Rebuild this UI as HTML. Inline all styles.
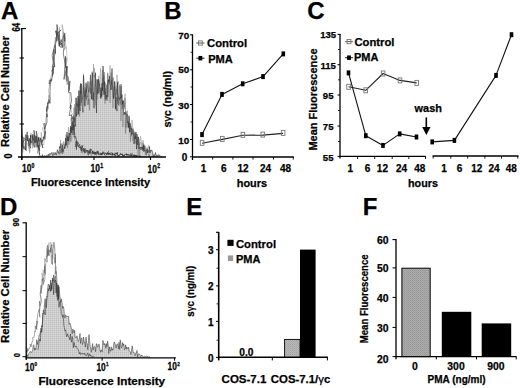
<!DOCTYPE html>
<html><head><meta charset="utf-8"><style>
html,body{margin:0;padding:0;background:#fff;width:520px;height:388px;overflow:hidden}
svg{display:block}
text{font-family:"Liberation Sans", sans-serif;stroke:#000;stroke-width:0.25px;paint-order:stroke}
</style></head><body>
<svg width="520" height="388" viewBox="0 0 520 388" xmlns="http://www.w3.org/2000/svg">
<defs><pattern id="stip" width="2" height="2" patternUnits="userSpaceOnUse"><rect width="2" height="2" fill="#dadada"/><rect width="1" height="2" fill="#cacaca"/><rect width="2" height="1" fill="#cdcdcd"/><rect width="1" height="1" fill="#c0c0c0"/></pattern><pattern id="stip2" width="2" height="2" patternUnits="userSpaceOnUse"><rect width="2" height="2" fill="#acacac"/><rect width="1" height="1" fill="#969696"/><rect x="1" y="1" width="1" height="1" fill="#a0a0a0"/></pattern><pattern id="stip3" width="2" height="2" patternUnits="userSpaceOnUse"><rect width="2" height="2" fill="#b8b8b8"/><rect width="1" height="1" fill="#a4a4a4"/><rect x="1" y="1" width="1" height="1" fill="#acacac"/></pattern><filter id="bl" x="-5%" y="-5%" width="110%" height="110%"><feGaussianBlur stdDeviation="0.35"/></filter><filter id="bl2" x="-5%" y="-5%" width="110%" height="110%"><feGaussianBlur stdDeviation="0.6"/></filter></defs>
<rect width="520" height="388" fill="#fff"/>
<text transform="translate(1.00,19.00)" font-size="24" font-weight="bold" text-anchor="start" fill="#000">A</text>
<path d="M38.00,157.00 L38.00,156.50 L38.50,156.50 L39.00,156.50 L39.50,155.94 L40.00,156.08 L40.50,155.84 L41.00,156.50 L41.50,156.16 L42.00,156.50 L42.50,154.56 L43.00,156.50 L43.50,155.96 L44.00,156.50 L44.50,155.84 L45.00,155.57 L45.50,156.31 L46.00,156.50 L46.50,155.59 L47.00,155.59 L47.50,156.44 L48.00,154.71 L48.50,153.93 L49.00,156.04 L49.50,154.75 L50.00,153.20 L50.50,154.22 L51.00,154.42 L51.50,153.05 L52.00,152.24 L52.50,154.52 L53.00,155.87 L53.50,153.60 L54.00,152.38 L54.50,154.41 L55.00,154.93 L55.50,152.56 L56.00,154.22 L56.50,155.09 L57.00,151.74 L57.50,149.78 L58.00,152.43 L58.50,151.81 L59.00,153.91 L59.50,146.56 L60.00,147.98 L60.50,146.99 L61.00,143.65 L61.50,149.29 L62.00,150.29 L62.50,145.20 L63.00,152.22 L63.50,149.57 L64.00,148.22 L64.50,146.69 L65.00,148.37 L65.50,137.97 L66.00,145.71 L66.50,144.53 L67.00,132.01 L67.50,140.98 L68.00,136.71 L68.50,140.92 L69.00,133.09 L69.50,134.15 L70.00,134.99 L70.50,126.13 L71.00,133.51 L71.50,127.53 L72.00,129.83 L72.50,121.49 L73.00,130.40 L73.50,125.01 L74.00,117.18 L74.50,121.14 L75.00,124.00 L75.50,126.34 L76.00,97.73 L76.50,116.37 L77.00,111.51 L77.50,105.35 L78.00,95.99 L78.50,114.23 L79.00,90.55 L79.50,105.39 L80.00,111.00 L80.50,83.48 L81.00,94.32 L81.50,83.88 L82.00,97.35 L82.50,108.39 L83.00,112.35 L83.50,75.43 L84.00,86.46 L84.50,98.31 L85.00,106.34 L85.50,94.61 L86.00,82.70 L86.50,92.42 L87.00,88.84 L87.50,86.79 L88.00,81.34 L88.50,92.23 L89.00,91.25 L89.50,87.08 L90.00,85.60 L90.50,74.80 L91.00,82.55 L91.50,99.25 L92.00,85.09 L92.50,72.63 L93.00,100.41 L93.50,92.39 L94.00,108.20 L94.50,87.78 L95.00,82.58 L95.50,72.76 L96.00,100.47 L96.50,112.93 L97.00,79.12 L97.50,80.89 L98.00,93.32 L98.50,79.12 L99.00,84.74 L99.50,83.98 L100.00,89.41 L100.50,98.38 L101.00,87.66 L101.50,96.57 L102.00,83.19 L102.50,90.61 L103.00,65.97 L103.50,72.81 L104.00,95.20 L104.50,81.32 L105.00,92.98 L105.50,92.58 L106.00,100.34 L106.50,95.21 L107.00,97.23 L107.50,85.91 L108.00,80.01 L108.50,79.77 L109.00,82.29 L109.50,75.97 L110.00,81.87 L110.50,86.49 L111.00,90.01 L111.50,84.21 L112.00,68.51 L112.50,87.03 L113.00,90.07 L113.50,98.69 L114.00,93.74 L114.50,82.00 L115.00,81.60 L115.50,108.93 L116.00,96.93 L116.50,107.81 L117.00,111.05 L117.50,82.66 L118.00,94.74 L118.50,96.58 L119.00,98.67 L119.50,99.62 L120.00,97.56 L120.50,98.45 L121.00,84.21 L121.50,98.17 L122.00,94.67 L122.50,104.11 L123.00,100.63 L123.50,111.59 L124.00,114.85 L124.50,112.28 L125.00,114.05 L125.50,113.98 L126.00,111.54 L126.50,115.38 L127.00,114.57 L127.50,122.69 L128.00,121.60 L128.50,127.15 L129.00,115.77 L129.50,132.22 L130.00,123.11 L130.50,124.51 L131.00,129.04 L131.50,127.99 L132.00,134.21 L132.50,130.33 L133.00,128.76 L133.50,131.27 L134.00,143.95 L134.50,137.92 L135.00,132.42 L135.50,139.12 L136.00,132.13 L136.50,149.06 L137.00,133.99 L137.50,144.05 L138.00,144.98 L138.50,136.89 L139.00,145.20 L139.50,148.74 L140.00,147.18 L140.50,147.01 L141.00,149.98 L141.50,147.31 L142.00,148.30 L142.50,146.95 L143.00,150.01 L143.50,144.85 L144.00,151.16 L144.50,147.14 L145.00,145.63 L145.50,150.69 L146.00,155.11 L146.50,153.12 L147.00,149.08 L147.50,152.92 L148.00,150.05 L148.50,151.32 L149.00,152.23 L149.50,146.52 L150.00,152.96 L150.50,150.36 L151.00,151.43 L151.50,150.06 L152.00,150.35 L152.50,151.87 L153.00,155.57 L153.50,156.50 L154.00,154.46 L154.50,156.48 L155.00,154.61 L155.50,152.40 L156.00,155.42 L156.50,155.90 L157.00,154.90 L157.50,155.89 L158.00,156.28 L158.50,154.85 L159.00,154.44 L159.50,155.77 L160.00,155.89 L160.50,155.88 L161.00,156.50 L161.50,156.50 L162.00,157.00" stroke="#1a1a1a" stroke-width="0.5" fill="url(#stip)" stroke-linejoin="round" filter="url(#bl)"/>
<path d="M60.00,149.98 L60.50,152.92 L61.00,151.65 L61.50,151.27 L62.00,153.99 L62.50,143.55 L63.00,144.82 L63.50,141.41 L64.00,145.33 L64.50,149.12 L65.00,144.28 L65.50,145.82 L66.00,134.58 L66.50,142.43 L67.00,136.15 L67.50,148.10 L68.00,142.58 L68.50,141.81 L69.00,135.18 L69.50,137.72 L70.00,136.83 L70.50,129.33 L71.00,126.72 L71.50,127.47 L72.00,122.63 L72.50,121.00 L73.00,120.86 L73.50,115.43 L74.00,124.17 L74.50,104.19 L75.00,120.60 L75.50,106.99 L76.00,106.10 L76.50,97.91 L77.00,106.40 L77.50,104.04 L78.00,106.34 L78.50,98.54 L79.00,102.59 L79.50,116.66 L80.00,102.89 L80.50,92.89 L81.00,105.93 L81.50,94.89 L82.00,100.64 L82.50,99.84 L83.00,89.26 L83.50,73.97 L84.00,88.65 L84.50,96.84 L85.00,87.31 L85.50,94.78 L86.00,99.59 L86.50,84.16 L87.00,101.14 L87.50,104.81 L88.00,99.27 L88.50,99.94 L89.00,99.08 L89.50,110.39 L90.00,89.65 L90.50,87.62 L91.00,93.42 L91.50,78.13 L92.00,71.46 L92.50,78.21 L93.00,90.79 L93.50,91.82 L94.00,71.77 L94.50,68.34 L95.00,84.03 L95.50,85.34 L96.00,86.76 L96.50,93.98 L97.00,99.58 L97.50,89.65 L98.00,93.49 L98.50,76.48 L99.00,75.71 L99.50,89.82 L100.00,94.13 L100.50,94.71 L101.00,93.35 L101.50,95.23 L102.00,95.45 L102.50,69.86 L103.00,79.98 L103.50,91.83 L104.00,93.21 L104.50,72.12 L105.00,98.91 L105.50,82.77 L106.00,84.80 L106.50,89.83 L107.00,94.56 L107.50,72.70 L108.00,96.90 L108.50,87.86 L109.00,79.46 L109.50,84.50 L110.00,65.52 L110.50,80.96 L111.00,89.31 L111.50,80.52 L112.00,84.40 L112.50,86.29 L113.00,88.31 L113.50,98.06 L114.00,87.75 L114.50,85.80 L115.00,94.07 L115.50,109.58 L116.00,86.13 L116.50,94.90 L117.00,74.84 L117.50,103.73 L118.00,97.40 L118.50,104.99 L119.00,92.77 L119.50,84.65 L120.00,103.96 L120.50,103.82 L121.00,90.04 L121.50,86.34 L122.00,105.34 L122.50,101.50 L123.00,127.23 L123.50,101.11 L124.00,103.58 L124.50,108.84 L125.00,98.10 L125.50,106.23 L126.00,127.71 L126.50,115.63 L127.00,113.73 L127.50,110.64 L128.00,125.62 L128.50,127.69 L129.00,126.48 L129.50,123.81 L130.00,129.96 L130.50,131.52 L131.00,126.06 L131.50,135.12 L132.00,120.06 L132.50,126.23 L133.00,133.05 L133.50,135.28 L134.00,130.83 L134.50,139.40 L135.00,143.78 L135.50,141.34 L136.00,140.87 L136.50,144.44 L137.00,143.06 L137.50,136.60 L138.00,141.63 L138.50,148.88 L139.00,139.08 L139.50,144.87 L140.00,143.75 L140.50,142.51 L141.00,142.49 L141.50,147.09 L142.00,148.22 L142.50,148.53 L143.00,142.64 L143.50,147.11 L144.00,149.65 L144.50,151.97 L145.00,151.36 L145.50,152.16 L146.00,153.27 L146.50,152.71 L147.00,148.21 L147.50,151.11 L148.00,149.34 L148.50,145.35 L149.00,147.72 L149.50,156.50" stroke="#333" stroke-width="0.4" fill="none" stroke-linejoin="round" filter="url(#bl)" opacity="0.7"/>
<path d="M60.00,155.59 L60.50,139.94 L61.00,152.35 L61.50,149.11 L62.00,152.97 L62.50,149.18 L63.00,153.84 L63.50,146.56 L64.00,143.72 L64.50,147.42 L65.00,146.18 L65.50,142.15 L66.00,141.91 L66.50,145.07 L67.00,143.88 L67.50,136.79 L68.00,136.10 L68.50,127.11 L69.00,144.73 L69.50,132.98 L70.00,140.78 L70.50,133.91 L71.00,141.85 L71.50,138.01 L72.00,128.69 L72.50,134.97 L73.00,116.22 L73.50,129.71 L74.00,107.55 L74.50,118.94 L75.00,122.48 L75.50,113.79 L76.00,107.55 L76.50,102.42 L77.00,104.73 L77.50,115.10 L78.00,112.38 L78.50,100.92 L79.00,90.69 L79.50,106.36 L80.00,86.00 L80.50,93.28 L81.00,90.32 L81.50,103.02 L82.00,97.28 L82.50,98.41 L83.00,95.60 L83.50,85.99 L84.00,97.16 L84.50,105.17 L85.00,90.64 L85.50,96.68 L86.00,88.77 L86.50,99.60 L87.00,95.57 L87.50,97.45 L88.00,92.05 L88.50,104.64 L89.00,84.62 L89.50,84.68 L90.00,81.91 L90.50,93.69 L91.00,81.19 L91.50,80.76 L92.00,94.28 L92.50,98.65 L93.00,92.81 L93.50,64.00 L94.00,77.59 L94.50,76.43 L95.00,75.12 L95.50,83.15 L96.00,105.40 L96.50,84.21 L97.00,79.97 L97.50,94.32 L98.00,88.07 L98.50,88.61 L99.00,80.59 L99.50,87.45 L100.00,91.83 L100.50,68.41 L101.00,71.38 L101.50,98.22 L102.00,95.79 L102.50,82.29 L103.00,77.13 L103.50,85.43 L104.00,75.33 L104.50,83.82 L105.00,103.68 L105.50,88.48 L106.00,98.78 L106.50,84.87 L107.00,90.76 L107.50,100.89 L108.00,73.64 L108.50,83.61 L109.00,85.60 L109.50,90.07 L110.00,102.84 L110.50,94.25 L111.00,72.57 L111.50,84.88 L112.00,78.77 L112.50,78.61 L113.00,107.97 L113.50,77.35 L114.00,90.35 L114.50,81.29 L115.00,97.25 L115.50,92.61 L116.00,90.75 L116.50,89.13 L117.00,101.36 L117.50,81.55 L118.00,83.94 L118.50,81.42 L119.00,106.06 L119.50,91.73 L120.00,85.96 L120.50,92.95 L121.00,120.94 L121.50,98.69 L122.00,108.91 L122.50,107.08 L123.00,104.56 L123.50,100.45 L124.00,105.21 L124.50,106.84 L125.00,93.72 L125.50,133.69 L126.00,122.15 L126.50,117.51 L127.00,116.74 L127.50,114.14 L128.00,128.24 L128.50,121.83 L129.00,127.99 L129.50,117.24 L130.00,130.42 L130.50,141.68 L131.00,128.47 L131.50,136.19 L132.00,132.71 L132.50,139.97 L133.00,140.72 L133.50,136.21 L134.00,134.03 L134.50,139.18 L135.00,138.60 L135.50,135.98 L136.00,142.01 L136.50,142.54 L137.00,136.97 L137.50,141.33 L138.00,155.64 L138.50,146.80 L139.00,144.34 L139.50,155.00 L140.00,143.48 L140.50,136.37 L141.00,139.06 L141.50,141.00 L142.00,148.02 L142.50,150.94 L143.00,140.07 L143.50,152.00 L144.00,144.30 L144.50,149.68 L145.00,150.68 L145.50,150.90 L146.00,149.91 L146.50,150.75 L147.00,147.26 L147.50,151.73 L148.00,153.98 L148.50,154.10 L149.00,156.50 L149.50,154.93" stroke="#333" stroke-width="0.4" fill="none" stroke-linejoin="round" filter="url(#bl)" opacity="0.7"/>
<path d="M23.43,138.59 L21.67,135.57 L22.56,141.33 L22.28,144.86 L23.49,148.65 L22.53,142.85 L25.25,139.06 L23.76,137.63 L23.01,145.92 L26.31,150.64 L25.87,143.00 L25.77,134.57 L26.08,135.93 L25.58,149.85 L26.00,142.27 L27.15,131.85 L27.63,141.14 L27.94,135.43 L27.59,138.59 L27.28,139.59 L27.83,138.58 L29.30,145.77 L29.90,142.60 L28.59,139.93 L28.77,145.65 L30.62,148.19 L30.45,134.81 L30.73,142.51 L29.22,138.31 L30.36,142.52 L30.54,136.16 L31.49,143.14 L30.08,142.59 L33.04,140.90 L32.47,136.59 L32.89,139.95 L31.73,135.90 L33.08,134.22 L34.60,142.69 L32.29,135.12 L34.28,147.44 L34.93,145.09 L33.98,130.31 L35.63,142.95 L34.90,135.54 L36.61,141.93 L36.27,142.14 L36.30,131.11 L38.21,140.92 L37.45,140.94 L38.18,147.79 L36.23,136.15 L37.02,146.86 L38.65,136.91 L39.02,141.03 L38.45,138.00 L39.50,150.37 L38.15,145.30 L39.59,155.32 L38.67,145.26 L40.31,146.15 L39.86,145.90 L40.02,137.71 L40.95,140.44 L42.84,148.03 L40.59,138.19 L41.26,141.19 L43.06,139.68 L42.02,142.55 L44.29,136.59 L43.20,137.16 L43.38,138.73 L43.92,137.37 L45.47,131.44 L44.79,139.46 L44.97,125.19 L45.03,123.53 L43.69,123.68 L44.60,129.06 L47.04,121.98 L46.74,117.06 L46.76,113.70 L47.17,117.14 L46.41,108.55 L47.50,105.47 L46.69,111.62 L48.15,101.99 L47.46,103.97 L48.21,103.57 L49.11,99.76 L48.71,99.75 L49.88,103.40 L50.01,91.47 L50.22,84.68 L51.39,78.57 L49.17,83.93 L49.36,80.11 L51.65,80.84 L52.25,75.04 L53.51,73.13 L52.68,69.94 L53.05,69.24 L51.81,71.32 L53.58,66.39 L53.81,66.99 L52.55,75.34 L52.99,64.49 L54.00,49.42 L54.66,67.03 L52.05,55.66 L55.06,44.66 L55.51,53.73 L55.44,45.27 L56.14,38.54 L56.61,35.84 L55.59,30.82 L57.17,35.33 L56.87,41.33 L56.55,30.76 L57.89,34.91 L59.34,44.03 L56.99,24.50 L57.11,35.77 L57.41,33.41 L60.98,29.82 L59.27,32.18 L59.75,41.05 L59.39,46.09 L59.55,41.83 L58.88,45.13 L61.15,47.70 L61.53,43.05 L59.82,45.06 L60.96,40.70 L61.53,39.65 L62.48,47.56 L63.02,38.11 L64.11,34.79 L64.63,41.42 L64.66,33.13 L65.21,39.76 L63.25,53.12 L64.10,57.96 L65.93,68.48 L65.46,62.06 L65.52,56.33 L64.02,79.36 L64.43,76.78 L67.06,65.97 L67.01,81.27 L66.73,75.18 L66.93,66.44 L66.05,75.69 L68.23,76.73 L69.13,90.51 L69.98,80.85 L68.84,86.70 L68.92,89.61 L68.41,92.14 L70.80,92.63 L71.54,101.02 L69.75,107.88 L70.86,108.75 L70.98,105.04 L70.68,107.24 L69.25,115.48 L71.47,115.28 L72.65,118.67 L71.10,118.06 L71.95,132.50 L70.04,130.09 L74.46,124.99 L74.05,132.33 L73.94,134.84 L73.96,124.44 L73.93,131.35 L74.73,133.06 L74.82,137.25 L75.18,136.26 L75.67,137.18 L76.11,138.85 L77.69,144.84 L75.30,146.60 L77.14,141.39 L76.64,141.15 L76.47,149.60 L75.67,141.81 L78.65,143.08 L77.51,144.76 L78.02,146.05 L79.41,147.53 L78.32,146.55 L79.61,144.38 L79.82,147.47 L80.91,147.32 L81.40,150.75 L80.01,147.53 L81.92,145.49 L81.30,146.42 L81.80,151.16 L81.80,148.08 L82.99,145.61 L81.50,148.33 L83.13,149.45 L84.25,151.54 L83.24,148.12 L85.62,150.96 L83.43,151.30 L84.58,149.11 L84.26,150.06 L84.43,153.19 L84.29,153.23 L85.10,152.07 L85.84,151.43 L85.47,152.69 L87.29,150.91 L88.16,151.04 L85.71,150.02 L88.14,151.32 L87.86,151.26 L88.21,155.31 L90.51,151.24 L89.67,153.33 L89.19,153.45 L89.36,151.46 L87.55,153.35 L90.50,148.93 L89.43,152.04 L90.56,153.11 L90.79,148.91 L91.86,150.61 L93.13,153.54 L92.49,151.92 L93.05,150.92 L91.99,151.91 L92.91,151.77 L93.49,153.41 L91.80,153.14 L95.24,152.30 L93.06,151.91 L92.85,152.71 L95.77,154.42 L96.51,153.32 L94.27,153.72 L94.65,152.84 L98.30,151.54 L95.90,152.24 L94.31,153.82 L95.85,153.21 L98.50,152.08 L97.59,151.29 L97.98,153.28 L98.70,152.79 L98.51,152.80 L97.90,152.84 L97.07,153.55 L99.20,153.58 L98.10,154.34 L99.35,154.32 L101.28,154.79 L100.49,154.22 L100.35,152.98 L100.66,153.31 L101.56,153.93 L102.03,153.08 L100.31,154.03 L101.97,154.70 L103.64,152.61 L103.08,151.59 L102.01,154.79 L102.39,153.55 L101.44,154.31 L102.89,152.16 L105.35,155.43 L104.14,154.39 L103.73,153.50 L104.28,153.29 L105.00,153.79 L105.30,153.52 L105.38,153.42 L105.31,152.58 L106.87,155.05 L107.98,153.73 L106.39,153.87 L106.71,153.91 L108.57,151.45 L106.48,154.39 L107.57,153.54 L108.06,153.60 L108.85,153.98 L108.75,152.97 L108.50,154.79 L109.88,153.29 L108.83,153.11 L108.63,153.17 L108.67,154.19 L111.47,154.78 L109.54,153.50 L111.80,152.64 L112.30,155.13 L112.73,153.12 L112.14,155.29 L112.11,154.12 L112.98,153.54 L112.67,153.61 L112.34,154.66 L114.93,155.08 L113.30,154.09 L116.02,155.17 L115.16,156.23 L114.59,154.14 L115.69,153.31 L116.71,153.42 L114.66,153.14 L115.37,153.84 L115.56,153.79 L116.95,153.28 L117.46,154.94 L117.43,152.20 L117.04,153.36 L117.52,156.29 L119.37,155.45 L119.61,155.02 L119.02,154.98 L118.02,156.12 L120.07,155.09 L120.06,154.72 L120.33,153.64 L121.96,154.63 L121.44,154.11 L120.12,154.15 L120.43,154.17 L122.84,154.74 L122.09,154.53 L123.00,155.51 L122.40,153.77 L121.95,154.72 L123.39,156.34 L124.86,154.92 L124.06,155.85 L123.04,155.82 L124.08,155.97 L124.21,155.54 L125.12,153.94 L126.19,154.81 L127.35,154.75 L126.08,153.90 L125.80,154.73 L126.55,154.17 L126.80,153.90 L126.70,155.29 L127.41,155.12 L127.69,154.68 L126.93,154.52 L128.78,154.83 L128.26,154.96 L128.00,154.97 L129.63,155.24 L129.05,155.00 L131.35,155.57 L130.51,155.68 L130.45,155.59 L130.00,154.94 L130.61,154.99 L132.04,155.69 L130.96,155.31 L132.56,155.43 L130.28,153.91 L132.65,153.81 L133.51,155.72 L133.37,155.73 L133.37,156.39 L134.58,156.00 L133.20,155.72 L133.38,155.62 L134.66,154.81 L135.95,156.16 L135.56,155.33 L135.29,155.97 L136.04,155.82 L136.47,155.88 L135.25,156.23 L134.14,155.51 L136.04,155.59 L135.92,155.37 L137.05,155.64 L136.79,156.50 L137.39,155.70 L138.86,156.47 L138.86,156.31 L139.05,156.27 L140.87,156.32 L139.26,155.52 L139.63,156.16" stroke="#333" stroke-width="0.6" fill="none" stroke-linejoin="round" filter="url(#bl2)"/>
<path d="M22.93,148.79 L22.74,152.57 L21.82,128.56 L23.14,141.64 L23.69,147.78 L22.76,149.44 L24.87,145.40 L24.24,149.83 L25.98,142.99 L24.37,144.23 L25.29,141.98 L25.19,135.39 L28.06,136.94 L28.45,143.99 L29.03,139.01 L29.43,149.49 L29.32,149.91 L29.71,152.99 L27.78,143.26 L30.00,151.31 L29.66,139.02 L30.22,139.21 L29.80,143.85 L32.49,144.65 L31.85,134.01 L30.77,132.98 L32.96,144.15 L32.83,137.16 L32.35,148.25 L33.41,143.47 L33.37,142.69 L32.39,142.35 L33.47,146.33 L35.69,140.76 L35.94,147.77 L36.26,139.11 L35.35,140.96 L36.26,138.66 L37.26,145.89 L38.22,143.00 L37.24,138.26 L37.45,153.71 L39.83,140.40 L39.26,141.46 L39.26,143.97 L39.33,151.11 L39.81,140.38 L42.23,144.77 L42.07,141.14 L41.22,132.25 L40.87,144.36 L43.91,144.81 L44.21,137.08 L44.28,137.52 L44.36,128.54 L42.30,127.62 L43.24,130.91 L45.31,133.58 L44.94,125.62 L45.83,125.16 L45.53,124.26 L45.81,117.57 L47.30,116.06 L46.84,116.87 L47.60,103.04 L48.23,109.28 L48.61,95.10 L49.84,103.19 L50.43,98.96 L48.37,91.34 L49.76,84.55 L49.82,85.68 L51.48,79.80 L50.24,79.33 L52.30,71.36 L52.63,77.07 L52.92,65.68 L51.92,67.44 L53.00,64.09 L52.62,70.79 L54.35,50.89 L55.26,53.70 L53.43,60.01 L54.45,44.56 L55.45,37.04 L55.52,43.65 L57.74,36.43 L56.67,40.70 L57.42,27.34 L56.60,33.65 L59.39,35.63 L58.55,40.14 L59.49,27.44 L59.28,46.65 L57.69,33.74 L58.56,32.53 L59.24,39.07 L61.22,45.17 L60.74,39.55 L61.98,42.19 L62.26,40.52 L62.62,37.67 L63.63,32.09 L63.36,47.21 L62.12,24.50 L63.39,30.49 L65.89,46.76 L63.83,50.28 L66.43,46.60 L67.09,61.31 L65.46,65.68 L66.71,58.05 L65.54,78.84 L67.90,83.23 L66.90,84.78 L66.82,77.24 L68.05,84.78 L68.39,82.25 L68.67,93.03 L69.78,92.75 L69.85,101.91 L69.80,102.46 L71.65,112.46 L73.38,115.42 L71.66,120.89 L71.37,113.99 L71.51,117.57 L73.33,127.58 L72.97,125.88 L73.61,130.68 L72.20,131.94 L73.38,133.15 L73.75,136.89 L76.05,137.37 L75.36,138.68 L73.76,136.68 L76.83,144.86 L77.82,142.50 L78.37,145.74 L75.08,144.44 L78.14,146.96 L79.13,145.01 L79.35,145.61 L78.99,145.92 L77.98,144.70 L79.61,145.48 L80.11,146.80 L81.32,147.34 L81.78,146.27 L81.38,152.65 L82.76,147.33 L81.45,148.69 L82.19,153.44 L83.17,148.53 L84.12,151.03 L83.71,151.04 L85.51,149.88 L85.17,148.21 L84.35,148.26 L85.68,150.79 L85.20,151.61 L85.53,147.98 L85.52,151.40 L88.46,150.34 L88.42,152.61 L86.56,151.69 L89.40,150.43 L89.66,151.04 L88.87,151.78 L90.06,153.61 L92.02,155.95 L90.66,152.46 L91.18,152.24 L92.21,153.08 L90.67,152.30 L90.86,153.23 L91.13,153.01 L92.73,152.62 L93.99,151.73 L92.83,152.99 L92.77,153.97 L94.60,153.07 L94.49,154.83 L95.77,154.21 L95.51,153.00 L95.87,155.18 L96.36,151.92 L96.87,154.57 L96.37,155.37 L96.63,153.00 L99.47,153.20 L101.22,154.40 L99.85,154.97 L97.77,153.90 L99.67,153.70" stroke="#555" stroke-width="0.4" fill="none" stroke-linejoin="round" filter="url(#bl2)" opacity="0.8"/>
<line x1="21.8" y1="28" x2="21.8" y2="160" stroke="#000" stroke-width="1.3"/>
<line x1="21.2" y1="28.6" x2="26" y2="28.6" stroke="#000" stroke-width="1.1"/>
<line x1="19.5" y1="58" x2="24" y2="58" stroke="#000" stroke-width="1.0"/>
<line x1="19.5" y1="91" x2="24" y2="91" stroke="#000" stroke-width="1.0"/>
<line x1="19.5" y1="124" x2="24" y2="124" stroke="#000" stroke-width="1.0"/>
<line x1="18" y1="157" x2="166" y2="157" stroke="#000" stroke-width="1.4"/>
<line x1="21.8" y1="157" x2="21.8" y2="160" stroke="#000" stroke-width="1.1"/>
<line x1="94" y1="157" x2="94" y2="160" stroke="#000" stroke-width="1.1"/>
<line x1="150.5" y1="157" x2="150.5" y2="160" stroke="#000" stroke-width="1.1"/>
<text transform="translate(19.60,31.50) rotate(-90) scale(0.78,1)" font-size="10" font-weight="bold" text-anchor="start" fill="#000">64</text>
<text transform="translate(12.40,158.50) rotate(-90) scale(0.9,1)" font-size="10" font-weight="bold" text-anchor="start" fill="#000">0</text>
<text transform="translate(8.80,147.00) rotate(-90)" font-size="11.1" font-weight="bold" text-anchor="start" fill="#000">Relative Cell Number</text>
<text transform="translate(22.00,172.40) scale(0.8,1)" font-size="10.5" font-weight="bold" text-anchor="start" fill="#000">10</text>
<text transform="translate(31.60,168.10) scale(0.75,1)" font-size="7.0" font-weight="bold" text-anchor="start" fill="#000">0</text>
<text transform="translate(90.60,172.20) scale(0.8,1)" font-size="10.5" font-weight="bold" text-anchor="start" fill="#000">10</text>
<text transform="translate(100.20,167.90) scale(0.75,1)" font-size="7.0" font-weight="bold" text-anchor="start" fill="#000">1</text>
<text transform="translate(147.60,172.50) scale(0.8,1)" font-size="10.5" font-weight="bold" text-anchor="start" fill="#000">10</text>
<text transform="translate(157.20,168.20) scale(0.75,1)" font-size="7.0" font-weight="bold" text-anchor="start" fill="#000">2</text>
<text transform="translate(30.90,185.90)" font-size="11.0" font-weight="bold" text-anchor="start" fill="#000">Fluorescence Intensity</text>
<text transform="translate(164.20,19.00)" font-size="24" font-weight="bold" text-anchor="start" fill="#000">B</text>
<line x1="192.5" y1="34.5" x2="192.5" y2="160" stroke="#000" stroke-width="1.3"/>
<line x1="190" y1="34.8" x2="193" y2="34.8" stroke="#000" stroke-width="1.1"/>
<line x1="190" y1="69.8" x2="192.5" y2="69.8" stroke="#000" stroke-width="1.0"/>
<line x1="190" y1="104.5" x2="192.5" y2="104.5" stroke="#000" stroke-width="1.0"/>
<line x1="190" y1="139.5" x2="192.5" y2="139.5" stroke="#000" stroke-width="1.0"/>
<line x1="190" y1="156.8" x2="192.5" y2="156.8" stroke="#000" stroke-width="1.0"/>
<line x1="190.5" y1="52.3" x2="192.5" y2="52.3" stroke="#000" stroke-width="0.8"/>
<line x1="190.5" y1="87" x2="192.5" y2="87" stroke="#000" stroke-width="0.8"/>
<line x1="190.5" y1="122" x2="192.5" y2="122" stroke="#000" stroke-width="0.8"/>
<line x1="192" y1="157" x2="293.8" y2="157" stroke="#000" stroke-width="1.4"/>
<line x1="212.7" y1="157" x2="212.7" y2="159.6" stroke="#000" stroke-width="0.9"/>
<line x1="232.9" y1="157" x2="232.9" y2="159.6" stroke="#000" stroke-width="0.9"/>
<line x1="253" y1="157" x2="253" y2="159.6" stroke="#000" stroke-width="0.9"/>
<line x1="273.5" y1="157" x2="273.5" y2="159.6" stroke="#000" stroke-width="0.9"/>
<line x1="293.3" y1="157" x2="293.3" y2="159.6" stroke="#000" stroke-width="0.9"/>
<text transform="translate(189.20,38.50) scale(1.06,1)" font-size="9.3" font-weight="bold" text-anchor="end" fill="#000">70</text>
<text transform="translate(189.20,73.40) scale(1.06,1)" font-size="9.3" font-weight="bold" text-anchor="end" fill="#000">50</text>
<text transform="translate(189.20,108.50) scale(1.06,1)" font-size="9.3" font-weight="bold" text-anchor="end" fill="#000">30</text>
<text transform="translate(189.20,143.50) scale(1.06,1)" font-size="9.3" font-weight="bold" text-anchor="end" fill="#000">10</text>
<text transform="translate(187.40,160.70)" font-size="10" font-weight="bold" text-anchor="end" fill="#000">0</text>
<text transform="translate(170.90,127.60) rotate(-90)" font-size="10.85" font-weight="bold" text-anchor="start" fill="#000">s<tspan font-weight="normal">γ</tspan>c (ng/ml)</text>
<path d="M202.10,143.30 L222.30,139.40 L242.90,135.30 L262.80,135.10 L283.10,133.40" stroke="#222" stroke-width="1.1" fill="none" stroke-linejoin="round"/>
<path d="M202.00,134.60 L222.00,94.40 L242.70,83.80 L263.00,76.60 L283.30,53.90" stroke="#111" stroke-width="1.1" fill="none" stroke-linejoin="round"/>
<rect x="200.30" y="140.30" width="3.6" height="5.0" fill="none" stroke="#777" stroke-width="0.9"/>
<rect x="220.50" y="136.40" width="3.6" height="5.0" fill="none" stroke="#777" stroke-width="0.9"/>
<rect x="241.10" y="132.30" width="3.6" height="5.0" fill="none" stroke="#777" stroke-width="0.9"/>
<rect x="261.00" y="132.10" width="3.6" height="5.0" fill="none" stroke="#777" stroke-width="0.9"/>
<rect x="281.30" y="130.40" width="3.6" height="5.0" fill="none" stroke="#777" stroke-width="0.9"/>
<rect x="200.20" y="132.10" width="3.6" height="5.0" fill="#000"/>
<rect x="220.20" y="91.90" width="3.6" height="5.0" fill="#000"/>
<rect x="240.90" y="81.30" width="3.6" height="5.0" fill="#000"/>
<rect x="261.20" y="74.10" width="3.6" height="5.0" fill="#000"/>
<rect x="281.50" y="51.40" width="3.6" height="5.0" fill="#000"/>
<line x1="196.3" y1="43" x2="204.5" y2="43" stroke="#444" stroke-width="0.9"/>
<rect x="198.50" y="40.90" width="3.8" height="4.2" fill="none" stroke="#777" stroke-width="0.9"/>
<line x1="196.3" y1="58.2" x2="204.5" y2="58.2" stroke="#000" stroke-width="0.9"/>
<rect x="198.50" y="55.95" width="3.8" height="4.5" fill="#000"/>
<text transform="translate(207.00,46.70)" font-size="11.3" font-weight="bold" text-anchor="start" fill="#000">Control</text>
<text transform="translate(208.20,62.70)" font-size="11.1" font-weight="bold" text-anchor="start" fill="#000">PMA</text>
<text transform="translate(203.60,172.10)" font-size="10" font-weight="bold" text-anchor="middle" fill="#000">1</text>
<text transform="translate(223.80,172.10)" font-size="10" font-weight="bold" text-anchor="middle" fill="#000">6</text>
<text transform="translate(243.00,172.10)" font-size="10" font-weight="bold" text-anchor="middle" fill="#000">12</text>
<text transform="translate(265.60,172.10)" font-size="10" font-weight="bold" text-anchor="middle" fill="#000">24</text>
<text transform="translate(285.60,172.10)" font-size="10" font-weight="bold" text-anchor="middle" fill="#000">48</text>
<text transform="translate(236.80,186.70)" font-size="10.9" font-weight="bold" text-anchor="start" fill="#000">hours</text>
<text transform="translate(307.20,19.40)" font-size="24" font-weight="bold" text-anchor="start" fill="#000">C</text>
<line x1="340" y1="34" x2="340" y2="158.5" stroke="#000" stroke-width="1.3"/>
<line x1="337.5" y1="34.4" x2="340.5" y2="34.4" stroke="#000" stroke-width="1.1"/>
<line x1="337.5" y1="64.7" x2="340" y2="64.7" stroke="#000" stroke-width="1.0"/>
<line x1="337.5" y1="95" x2="340" y2="95" stroke="#000" stroke-width="1.0"/>
<line x1="337.5" y1="126" x2="340" y2="126" stroke="#000" stroke-width="1.0"/>
<line x1="337.5" y1="156.4" x2="340" y2="156.4" stroke="#000" stroke-width="1.0"/>
<line x1="338" y1="49.5" x2="340" y2="49.5" stroke="#000" stroke-width="0.8"/>
<line x1="338" y1="79.8" x2="340" y2="79.8" stroke="#000" stroke-width="0.8"/>
<line x1="338" y1="110.5" x2="340" y2="110.5" stroke="#000" stroke-width="0.8"/>
<line x1="338" y1="141.5" x2="340" y2="141.5" stroke="#000" stroke-width="0.8"/>
<line x1="339.5" y1="156.4" x2="425.9" y2="156.4" stroke="#000" stroke-width="1.4"/>
<line x1="357.6" y1="156.4" x2="357.6" y2="159" stroke="#000" stroke-width="0.9"/>
<line x1="374.7" y1="156.4" x2="374.7" y2="159" stroke="#000" stroke-width="0.9"/>
<line x1="392.2" y1="156.4" x2="392.2" y2="159" stroke="#000" stroke-width="0.9"/>
<line x1="408.8" y1="156.4" x2="408.8" y2="159" stroke="#000" stroke-width="0.9"/>
<line x1="425.5" y1="156.4" x2="425.5" y2="159" stroke="#000" stroke-width="0.9"/>
<line x1="432.6" y1="156" x2="518.5" y2="156" stroke="#000" stroke-width="1.4"/>
<line x1="433.2" y1="156" x2="433.2" y2="158.6" stroke="#000" stroke-width="0.9"/>
<line x1="450.8" y1="156" x2="450.8" y2="158.6" stroke="#000" stroke-width="0.9"/>
<line x1="467.7" y1="156" x2="467.7" y2="158.6" stroke="#000" stroke-width="0.9"/>
<line x1="484.9" y1="156" x2="484.9" y2="158.6" stroke="#000" stroke-width="0.9"/>
<line x1="501.5" y1="156" x2="501.5" y2="158.6" stroke="#000" stroke-width="0.9"/>
<line x1="517.8" y1="156" x2="517.8" y2="158.6" stroke="#000" stroke-width="0.9"/>
<text transform="translate(328.20,38.10)" font-size="9.6" font-weight="bold" text-anchor="middle" fill="#000">135</text>
<text transform="translate(328.20,68.50)" font-size="9.6" font-weight="bold" text-anchor="middle" fill="#000">115</text>
<text transform="translate(328.20,98.80)" font-size="9.6" font-weight="bold" text-anchor="middle" fill="#000">95</text>
<text transform="translate(328.20,130.10)" font-size="9.6" font-weight="bold" text-anchor="middle" fill="#000">75</text>
<text transform="translate(328.20,160.60)" font-size="9.6" font-weight="bold" text-anchor="middle" fill="#000">55</text>
<text transform="translate(316.60,150.60) rotate(-90)" font-size="11.0" font-weight="bold" text-anchor="start" fill="#000">Mean Fluorescence</text>
<path d="M348.60,86.80 L365.70,90.30 L383.10,73.50 L400.00,80.40 L416.70,82.90" stroke="#222" stroke-width="1.1" fill="none" stroke-linejoin="round"/>
<path d="M348.50,72.90 L365.80,135.70 L383.00,145.40 L399.70,133.90 L416.50,137.00" stroke="#111" stroke-width="1.1" fill="none" stroke-linejoin="round"/>
<path d="M432.20,141.90 L454.40,140.40 L496.00,75.40 L511.50,34.70" stroke="#111" stroke-width="1.1" fill="none" stroke-linejoin="round"/>
<rect x="346.80" y="84.30" width="3.6" height="5.0" fill="none" stroke="#777" stroke-width="0.9"/>
<rect x="363.90" y="87.80" width="3.6" height="5.0" fill="none" stroke="#777" stroke-width="0.9"/>
<rect x="381.30" y="71.00" width="3.6" height="5.0" fill="none" stroke="#777" stroke-width="0.9"/>
<rect x="398.20" y="77.90" width="3.6" height="5.0" fill="none" stroke="#777" stroke-width="0.9"/>
<rect x="414.90" y="80.40" width="3.6" height="5.0" fill="none" stroke="#777" stroke-width="0.9"/>
<rect x="346.70" y="70.40" width="3.6" height="5.0" fill="#000"/>
<rect x="364.00" y="133.20" width="3.6" height="5.0" fill="#000"/>
<rect x="381.20" y="142.90" width="3.6" height="5.0" fill="#000"/>
<rect x="397.90" y="131.40" width="3.6" height="5.0" fill="#000"/>
<rect x="414.70" y="134.50" width="3.6" height="5.0" fill="#000"/>
<rect x="430.40" y="139.40" width="3.6" height="5.0" fill="#000"/>
<rect x="452.60" y="137.90" width="3.6" height="5.0" fill="#000"/>
<rect x="494.20" y="72.90" width="3.6" height="5.0" fill="#000"/>
<rect x="509.70" y="32.20" width="3.6" height="5.0" fill="#000"/>
<line x1="345.2" y1="41.6" x2="352.9" y2="41.6" stroke="#444" stroke-width="0.9"/>
<rect x="347.10" y="39.50" width="3.8" height="4.2" fill="none" stroke="#777" stroke-width="0.9"/>
<line x1="345.2" y1="57.7" x2="352.9" y2="57.7" stroke="#000" stroke-width="0.9"/>
<rect x="347.10" y="55.45" width="3.8" height="4.5" fill="#000"/>
<text transform="translate(354.40,45.70)" font-size="11.25" font-weight="bold" text-anchor="start" fill="#000">Control</text>
<text transform="translate(354.00,61.40)" font-size="11" font-weight="bold" text-anchor="start" fill="#000">PMA</text>
<text transform="translate(350.20,171.50)" font-size="10" font-weight="bold" text-anchor="middle" fill="#000">1</text>
<text transform="translate(367.60,171.50)" font-size="10" font-weight="bold" text-anchor="middle" fill="#000">6</text>
<text transform="translate(382.40,171.50)" font-size="10" font-weight="bold" text-anchor="middle" fill="#000">12</text>
<text transform="translate(401.60,171.50)" font-size="10" font-weight="bold" text-anchor="middle" fill="#000">24</text>
<text transform="translate(419.80,171.50)" font-size="10" font-weight="bold" text-anchor="middle" fill="#000">48</text>
<text transform="translate(444.00,171.50)" font-size="10" font-weight="bold" text-anchor="middle" fill="#000">1</text>
<text transform="translate(459.60,171.50)" font-size="10" font-weight="bold" text-anchor="middle" fill="#000">6</text>
<text transform="translate(476.70,171.50)" font-size="10" font-weight="bold" text-anchor="middle" fill="#000">12</text>
<text transform="translate(494.00,171.50)" font-size="10" font-weight="bold" text-anchor="middle" fill="#000">24</text>
<text transform="translate(511.20,171.50)" font-size="10" font-weight="bold" text-anchor="middle" fill="#000">48</text>
<text transform="translate(408.00,187.20)" font-size="10.75" font-weight="bold" text-anchor="start" fill="#000">hours</text>
<text transform="translate(414.60,111.90)" font-size="10.9" font-weight="bold" text-anchor="start" fill="#000">wash</text>
<line x1="426.3" y1="117.4" x2="426.3" y2="128" stroke="#000" stroke-width="1.6"/>
<path d="M422.2,127 L430.6,127 L426.3,135 Z" fill="#000"/>
<text transform="translate(0.00,215.10)" font-size="24" font-weight="bold" text-anchor="start" fill="#000">D</text>
<path d="M26.66,356.30 L26.17,355.17 L26.78,353.94 L26.51,350.45 L27.04,352.53 L27.88,348.14 L27.62,351.41 L28.38,350.13 L28.54,349.65 L29.35,348.81 L30.06,347.03 L30.87,344.61 L29.83,344.11 L31.10,346.81 L32.03,341.70 L32.69,341.51 L33.10,339.11 L32.08,338.24 L32.94,337.41 L33.88,337.49 L34.47,334.83 L34.54,333.36 L34.93,331.34 L35.32,331.97 L35.22,325.96 L36.08,327.85 L36.81,329.62 L36.63,321.02 L37.79,321.20 L36.18,328.75 L37.84,313.67 L39.25,309.22 L39.24,311.15 L39.92,317.21 L39.67,315.97 L39.41,301.07 L40.14,305.86 L41.56,300.48 L40.28,294.57 L41.12,285.18 L41.14,293.65 L42.13,278.93 L42.59,280.53 L43.49,277.65 L43.19,284.71 L44.86,279.49 L44.72,265.88 L44.56,268.57 L44.70,273.20 L44.85,258.44 L46.06,261.00 L47.39,261.96 L46.72,249.54 L46.69,249.17 L47.57,245.19 L47.74,254.94 L47.95,248.84 L47.85,255.93 L49.17,249.98 L50.34,252.02 L50.62,247.94 L50.89,252.40 L50.91,248.41 L51.44,244.75 L52.11,258.34 L51.98,258.50 L52.54,264.64 L52.60,249.91 L53.77,246.27 L53.14,242.50 L54.35,242.50 L54.83,249.93 L55.22,263.01 L55.56,259.03 L55.37,253.68 L55.72,273.78 L56.20,271.17 L56.62,277.75 L56.64,283.49 L57.38,290.73 L57.69,298.69 L57.93,294.93 L58.99,306.45 L58.83,309.44 L59.73,318.10 L60.74,313.05 L61.25,324.86 L60.82,323.98 L61.72,329.75 L61.73,325.22 L63.21,332.30 L63.23,332.51 L63.37,328.96 L63.13,333.82 L63.48,334.86 L64.28,335.15 L64.39,337.21 L64.69,337.28 L65.56,341.00 L64.98,344.18 L65.01,343.52 L65.90,342.55 L66.23,347.85 L67.17,345.74 L67.17,346.91 L67.91,346.93 L67.39,346.90 L69.54,349.24 L69.41,347.90 L69.17,349.24 L70.16,347.51 L71.02,347.77 L71.23,350.06 L71.16,353.63 L71.91,351.77 L72.45,354.38 L71.80,352.70 L72.08,352.84 L72.91,351.77 L74.10,352.57 L74.75,354.78 L74.47,354.22 L75.56,352.37 L75.71,352.70 L75.57,354.76 L75.63,352.97 L76.08,354.58 L76.85,352.91 L77.91,354.55 L78.03,355.53 L77.35,355.01 L77.79,354.62 L79.22,354.67 L79.31,354.63 L79.13,354.83 L80.35,355.92 L81.09,355.94 L81.21,355.43 L81.26,354.25 L82.28,354.86 L81.81,355.51 L82.11,355.40 L82.34,354.48 L84.16,355.93 L84.68,357.00 L83.99,354.80 L84.71,355.70 L85.04,356.73 L85.68,355.53 L86.21,355.60 L86.35,356.00 L86.36,356.28 L86.55,355.80 L86.70,356.60 L86.30,355.17 L87.96,356.52 L87.99,356.43 L88.83,356.25 L89.16,356.55 L89.09,356.46" stroke="#555" stroke-width="0.5" fill="none" stroke-linejoin="round" filter="url(#bl)"/>
<path d="M39.65,311.17 L40.53,304.95 L40.81,295.65 L40.12,296.28 L40.26,292.21 L41.97,287.97 L42.64,285.82 L42.04,272.87 L43.04,282.00 L43.20,269.81 L43.52,272.64 L43.75,276.25 L45.39,273.32 L45.21,264.23 L45.48,274.76 L45.76,265.04 L46.59,255.58 L46.54,258.60 L47.27,251.41 L47.21,257.08 L48.17,245.82 L48.24,254.71 L49.07,242.50 L48.40,255.59 L49.18,250.31 L49.36,256.19 L51.16,244.01 L50.47,242.50 L51.14,242.55 L50.71,250.30 L51.49,264.02 L51.51,255.08 L52.70,258.15 L52.67,244.57 L54.32,247.61 L53.51,252.02 L54.85,263.55 L54.68,257.32 L55.41,262.19 L55.09,275.65 L55.92,266.21 L56.27,273.97 L56.35,272.99 L57.42,284.40 L56.80,295.03 L57.86,301.76 L58.25,296.32 L58.79,297.55 L58.57,313.34 L59.88,320.01" stroke="#666" stroke-width="0.45" fill="none" stroke-linejoin="round" filter="url(#bl)" opacity="0.8"/>
<path d="M26.00,357.50 L26.00,357.00 L26.60,357.00 L27.20,354.53 L27.80,356.67 L28.40,354.55 L29.00,353.10 L29.60,352.41 L30.20,351.36 L30.80,351.88 L31.40,352.68 L32.00,351.47 L32.60,350.73 L33.20,345.53 L33.80,344.70 L34.40,350.11 L35.00,348.09 L35.60,349.73 L36.20,346.43 L36.80,339.77 L37.40,344.42 L38.00,341.55 L38.60,339.23 L39.20,335.05 L39.80,334.91 L40.40,331.28 L41.00,331.71 L41.60,325.71 L42.20,326.95 L42.80,313.04 L43.40,313.81 L44.00,311.25 L44.60,302.61 L45.20,298.62 L45.80,306.68 L46.40,301.90 L47.00,296.09 L47.60,296.50 L48.20,288.49 L48.80,291.07 L49.40,285.35 L50.00,288.42 L50.60,291.59 L51.20,283.48 L51.80,289.27 L52.40,278.03 L53.00,281.39 L53.60,274.90 L54.20,281.55 L54.80,282.11 L55.40,280.11 L56.00,281.10 L56.60,293.15 L57.20,296.63 L57.80,284.73 L58.40,299.38 L59.00,286.64 L59.60,293.89 L60.20,298.84 L60.80,302.31 L61.40,298.88 L62.00,302.57 L62.60,308.35 L63.20,306.39 L63.80,308.17 L64.40,315.39 L65.00,317.97 L65.60,314.75 L66.20,316.08 L66.80,316.92 L67.40,316.16 L68.00,316.95 L68.60,316.36 L69.20,324.38 L69.80,323.00 L70.40,324.25 L71.00,326.83 L71.60,329.30 L72.20,333.66 L72.80,329.15 L73.40,330.08 L74.00,332.85 L74.60,330.31 L75.20,337.78 L75.80,337.45 L76.40,337.50 L77.00,335.85 L77.60,339.15 L78.20,341.58 L78.80,340.40 L79.40,338.04 L80.00,333.43 L80.60,343.36 L81.20,339.13 L81.80,337.81 L82.40,344.51 L83.00,342.97 L83.60,337.09 L84.20,342.29 L84.80,342.13 L85.40,347.12 L86.00,337.18 L86.60,342.84 L87.20,343.95 L87.80,349.78 L88.40,340.99 L89.00,334.53 L89.60,340.36 L90.20,346.51 L90.80,348.70 L91.40,352.25 L92.00,347.68 L92.60,343.57 L93.20,349.86 L93.80,346.86 L94.40,346.40 L95.00,347.28 L95.60,351.82 L96.20,344.01 L96.80,343.59 L97.40,347.06 L98.00,347.08 L98.60,344.41 L99.20,344.19 L99.80,348.74 L100.40,352.22 L101.00,349.99 L101.60,349.91 L102.20,351.95 L102.80,340.32 L103.40,342.08 L104.00,345.11 L104.60,343.48 L105.20,344.35 L105.80,348.30 L106.40,343.55 L107.00,346.71 L107.60,341.08 L108.20,345.06 L108.80,353.54 L109.40,346.87 L110.00,350.12 L110.60,351.36 L111.20,346.75 L111.80,350.32 L112.40,348.71 L113.00,350.16 L113.60,345.08 L114.20,341.89 L114.80,343.11 L115.40,344.50 L116.00,348.08 L116.60,345.07 L117.20,344.02 L117.80,344.46 L118.40,348.71 L119.00,342.34 L119.60,349.50 L120.20,339.87 L120.80,342.51 L121.40,348.07 L122.00,347.21 L122.60,342.61 L123.20,345.65 L123.80,343.84 L124.40,349.81 L125.00,349.03 L125.60,344.87 L126.20,349.22 L126.80,346.81 L127.40,348.21 L128.00,349.05 L128.60,347.13 L129.20,351.03 L129.80,351.50 L130.40,351.72 L131.00,354.51 L131.60,349.89 L132.20,345.88 L132.80,349.80 L133.40,352.61 L134.00,352.30 L134.60,354.64 L135.20,355.80 L135.80,352.81 L136.40,353.17 L137.00,350.34 L137.60,357.00 L138.20,354.25 L138.80,353.72 L139.40,354.00 L140.00,354.91 L140.60,356.75 L141.20,356.32 L141.80,354.91 L142.40,356.18 L143.00,356.62 L143.60,356.85 L144.20,356.78 L144.80,356.39 L145.40,356.93 L146.00,356.55 L146.60,355.83 L147.20,356.59 L147.80,356.66 L148.40,357.00 L149.00,357.00 L149.60,356.68 L150.00,357.50" stroke="#2a2a2a" stroke-width="0.5" fill="url(#stip)" stroke-linejoin="round" filter="url(#bl)"/>
<path d="M38.00,349.97 L38.60,345.91 L39.20,341.46 L39.80,339.05 L40.40,341.13 L41.00,328.06 L41.60,332.34 L42.20,328.44 L42.80,316.86 L43.40,309.87 L44.00,311.96 L44.60,312.85 L45.20,314.85 L45.80,306.52 L46.40,307.73 L47.00,295.32 L47.60,290.79 L48.20,283.99 L48.80,284.70 L49.40,287.66 L50.00,289.44 L50.60,280.07 L51.20,290.81 L51.80,285.00 L52.40,281.24 L53.00,279.75 L53.60,294.61 L54.20,283.62 L54.80,276.95 L55.40,275.94 L56.00,292.97 L56.60,282.83 L57.20,295.69 L57.80,300.36 L58.40,285.17 L59.00,307.38 L59.60,302.57 L60.20,301.30 L60.80,306.63 L61.40,313.87 L62.00,315.12 L62.60,317.41 L63.20,314.79 L63.80,324.95 L64.40,327.81 L65.00,331.03 L65.60,329.89 L66.20,334.64 L66.80,336.85 L67.40,333.78 L68.00,335.99 L68.60,336.38 L69.20,337.63 L69.80,339.86 L70.40,334.02 L71.00,338.99 L71.60,342.17 L72.20,336.61 L72.80,339.45 L73.40,347.71 L74.00,342.41 L74.60,344.60 L75.20,347.23 L75.80,346.28 L76.40,346.38 L77.00,347.91 L77.60,348.92 L78.20,349.53 L78.80,351.58 L79.40,354.03 L80.00,352.42 L80.60,354.51 L81.20,353.52 L81.80,353.91 L82.40,353.85 L83.00,353.03 L83.60,354.20 L84.20,354.34 L84.80,353.11 L85.40,355.35 L86.00,355.44 L86.60,355.34 L87.20,354.61 L87.80,352.94 L88.40,356.56 L89.00,355.38 L89.60,353.83 L90.20,356.14 L90.80,355.25 L91.40,356.34 L92.00,355.90 L92.60,356.78 L93.20,356.32 L93.80,356.44 L94.40,356.47" stroke="#222" stroke-width="0.5" fill="none" stroke-linejoin="round" filter="url(#bl)"/>
<line x1="26.2" y1="222.5" x2="26.2" y2="360" stroke="#000" stroke-width="1.3"/>
<line x1="22.5" y1="222.8" x2="26.6" y2="222.8" stroke="#000" stroke-width="1.1"/>
<line x1="22.5" y1="256.7" x2="26.2" y2="256.7" stroke="#000" stroke-width="1.0"/>
<line x1="22.5" y1="290.7" x2="26.2" y2="290.7" stroke="#000" stroke-width="1.0"/>
<line x1="22.5" y1="323.4" x2="26.2" y2="323.4" stroke="#000" stroke-width="1.0"/>
<line x1="22.5" y1="356.7" x2="26.2" y2="356.7" stroke="#000" stroke-width="1.0"/>
<line x1="25.6" y1="357.9" x2="175.8" y2="357.9" stroke="#000" stroke-width="1.4"/>
<line x1="102.1" y1="357.9" x2="102.1" y2="360.7" stroke="#000" stroke-width="1.0"/>
<line x1="174.6" y1="357.9" x2="174.6" y2="360.7" stroke="#000" stroke-width="1.0"/>
<text transform="translate(19.40,226.60) rotate(-90) scale(0.8,1)" font-size="9.8" font-weight="bold" text-anchor="start" fill="#000">90</text>
<text transform="translate(19.90,357.20) rotate(-90) scale(0.78,1)" font-size="9.5" font-weight="bold" text-anchor="start" fill="#000">0</text>
<text transform="translate(9.30,342.90) rotate(-90)" font-size="11.3" font-weight="bold" text-anchor="start" fill="#000">Relative Cell Number</text>
<text transform="translate(25.00,370.70) scale(0.82,1)" font-size="10.2" font-weight="bold" text-anchor="start" fill="#000">10</text>
<text transform="translate(34.60,365.90) scale(0.75,1)" font-size="6.2" font-weight="bold" text-anchor="start" fill="#000">0</text>
<text transform="translate(96.40,370.60) scale(0.82,1)" font-size="10.2" font-weight="bold" text-anchor="start" fill="#000">10</text>
<text transform="translate(106.00,365.80) scale(0.75,1)" font-size="6.2" font-weight="bold" text-anchor="start" fill="#000">1</text>
<text transform="translate(167.60,370.30) scale(0.82,1)" font-size="10.2" font-weight="bold" text-anchor="start" fill="#000">10</text>
<text transform="translate(177.20,365.50) scale(0.75,1)" font-size="6.2" font-weight="bold" text-anchor="start" fill="#000">2</text>
<text transform="translate(38.40,384.50)" font-size="11.7" font-weight="bold" text-anchor="start" fill="#000">Fluorescence Intensity</text>
<text transform="translate(186.30,215.30)" font-size="24" font-weight="bold" text-anchor="start" fill="#000">E</text>
<line x1="218.7" y1="232" x2="218.7" y2="360.4" stroke="#000" stroke-width="1.6"/>
<line x1="216" y1="232.3" x2="219" y2="232.3" stroke="#000" stroke-width="1.1"/>
<line x1="216" y1="249.7" x2="218.6" y2="249.7" stroke="#000" stroke-width="1.0"/>
<line x1="216" y1="285.9" x2="218.6" y2="285.9" stroke="#000" stroke-width="1.0"/>
<line x1="216" y1="321.4" x2="218.6" y2="321.4" stroke="#000" stroke-width="1.0"/>
<line x1="216" y1="357.4" x2="218.6" y2="357.4" stroke="#000" stroke-width="1.0"/>
<line x1="216.5" y1="268.3" x2="218.6" y2="268.3" stroke="#000" stroke-width="0.8"/>
<line x1="216.5" y1="303.9" x2="218.6" y2="303.9" stroke="#000" stroke-width="0.8"/>
<line x1="216.5" y1="340.2" x2="218.6" y2="340.2" stroke="#000" stroke-width="0.8"/>
<line x1="218.2" y1="357.2" x2="327.9" y2="357.2" stroke="#000" stroke-width="1.4"/>
<line x1="272.3" y1="357.2" x2="272.3" y2="360.4" stroke="#000" stroke-width="1.0"/>
<line x1="327.4" y1="357.2" x2="327.4" y2="360.4" stroke="#000" stroke-width="1.0"/>
<text transform="translate(213.60,254.40)" font-size="10" font-weight="bold" text-anchor="end" fill="#000">3</text>
<text transform="translate(213.60,290.20)" font-size="10" font-weight="bold" text-anchor="end" fill="#000">2</text>
<text transform="translate(213.60,326.20)" font-size="10" font-weight="bold" text-anchor="end" fill="#000">1</text>
<text transform="translate(213.60,362.10)" font-size="10" font-weight="bold" text-anchor="end" fill="#000">0</text>
<text transform="translate(194.10,316.80) rotate(-90) scale(0.96,1)" font-size="10.2" font-weight="bold" text-anchor="start" fill="#000">s<tspan font-weight="normal">γ</tspan>c (ng/ml)</text>
<rect x="284.6" y="339.4" width="15.40" height="17.60" fill="url(#stip3)" stroke="#000" stroke-width="0.9"/>
<rect x="300" y="249.6" width="15.60" height="107.40" fill="#000"/>
<rect x="227.4" y="239.8" width="6.20" height="6.10" fill="#000"/>
<rect x="227.9" y="255.4" width="5.20" height="5.70" fill="#9a9a9a"/>
<text transform="translate(235.90,248.00)" font-size="11.3" font-weight="bold" text-anchor="start" fill="#000">Control</text>
<text transform="translate(236.00,262.90)" font-size="11" font-weight="bold" text-anchor="start" fill="#000">PMA</text>
<text transform="translate(246.30,356.00)" font-size="10.2" font-weight="bold" text-anchor="middle" fill="#000">0.0</text>
<text transform="translate(221.60,383.10)" font-size="11.5" font-weight="bold" text-anchor="start" fill="#000">COS-7.1</text>
<text transform="translate(270.80,383.10)" font-size="11.4" font-weight="bold" text-anchor="start" fill="#000">COS-7.1/<tspan font-weight="normal">γ</tspan>c</text>
<text transform="translate(362.70,214.60)" font-size="24" font-weight="bold" text-anchor="start" fill="#000">F</text>
<line x1="396" y1="239.3" x2="396" y2="359.2" stroke="#000" stroke-width="1.3"/>
<line x1="392.4" y1="239.6" x2="396.4" y2="239.6" stroke="#000" stroke-width="1.1"/>
<line x1="392.5" y1="267.9" x2="396" y2="267.9" stroke="#000" stroke-width="1.0"/>
<line x1="392.5" y1="297.4" x2="396" y2="297.4" stroke="#000" stroke-width="1.0"/>
<line x1="392.5" y1="327.4" x2="396" y2="327.4" stroke="#000" stroke-width="1.0"/>
<line x1="392.5" y1="356.6" x2="396" y2="356.6" stroke="#000" stroke-width="1.0"/>
<line x1="395.5" y1="356.6" x2="516.6" y2="356.6" stroke="#000" stroke-width="1.4"/>
<line x1="436.3" y1="356.6" x2="436.3" y2="359.4" stroke="#000" stroke-width="1.0"/>
<line x1="476.5" y1="356.6" x2="476.5" y2="359.4" stroke="#000" stroke-width="1.0"/>
<line x1="516.2" y1="356.6" x2="516.2" y2="359.4" stroke="#000" stroke-width="1.0"/>
<text transform="translate(388.60,243.90)" font-size="10.4" font-weight="bold" text-anchor="end" fill="#000">60</text>
<text transform="translate(388.60,271.70)" font-size="10.4" font-weight="bold" text-anchor="end" fill="#000">50</text>
<text transform="translate(388.60,302.00)" font-size="10.4" font-weight="bold" text-anchor="end" fill="#000">40</text>
<text transform="translate(388.60,331.70)" font-size="10.4" font-weight="bold" text-anchor="end" fill="#000">30</text>
<text transform="translate(388.60,362.80)" font-size="10.4" font-weight="bold" text-anchor="end" fill="#000">20</text>
<text transform="translate(368.00,343.20) rotate(-90) scale(0.92,1)" font-size="10.4" font-weight="bold" text-anchor="start" fill="#000">Mean Fluorescence</text>
<rect x="401.9" y="268.2" width="28.30" height="88.40" fill="url(#stip2)" stroke="#000" stroke-width="1.0"/>
<rect x="441.8" y="311.8" width="29.50" height="44.80" fill="#000"/>
<rect x="481.7" y="323.4" width="29.50" height="33.20" fill="#000"/>
<text transform="translate(415.00,370.00)" font-size="10.4" font-weight="bold" text-anchor="middle" fill="#000">0</text>
<text transform="translate(456.00,370.30)" font-size="10.4" font-weight="bold" text-anchor="middle" fill="#000">300</text>
<text transform="translate(495.80,370.30)" font-size="10.4" font-weight="bold" text-anchor="middle" fill="#000">900</text>
<text transform="translate(427.60,382.60)" font-size="10" font-weight="bold" text-anchor="start" fill="#000">PMA (ng/ml)</text>
</svg>
</body></html>
